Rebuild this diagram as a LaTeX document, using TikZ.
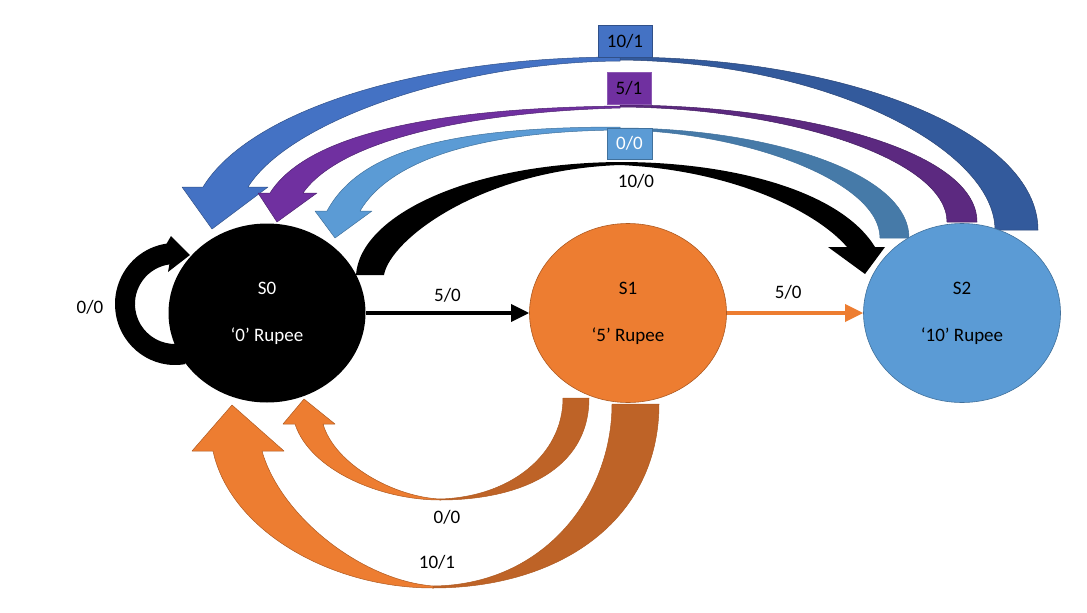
\documentclass[tikz,border=0pt]{standalone}
\usepackage{fontspec}
\setmainfont{Carlito}
\usepackage{tikz}
\usetikzlibrary{arrows.meta,shapes.geometric}
\usepackage{xcolor}
\definecolor{coinblue}{RGB}{68,114,196}
\definecolor{coinbluedark}{RGB}{51,90,156}
\definecolor{plum}{RGB}{112,48,160}
\definecolor{plumdark}{RGB}{92,41,128}
\definecolor{paleblue}{RGB}{91,155,213}
\definecolor{palebluedark}{RGB}{70,122,168}
\definecolor{amber}{RGB}{237,125,49}
\definecolor{amberdark}{RGB}{190,99,39}
\definecolor{amberline}{RGB}{174,90,33}
\definecolor{paleline}{RGB}{65,113,156}

\begin{document}
\begin{tikzpicture}[x=1pt, y=-1pt, font=\fontsize{19}{23}\selectfont,
    state/.style={ellipse, minimum width=197pt, minimum height=179pt,
      inner sep=0pt, align=center},
    tagbox/.style={minimum height=32pt, inner sep=0pt, line width=0.6pt},
    band/.style={line width=0.5pt, line join=round}]
        \useasboundingbox (0,0) rectangle (1087,613);

        % 10/1 : S2 back to S0
        \filldraw[band, fill=coinbluedark, draw=coinblue!60!black]
          (1038,230) .. controls (1038,134) and (851,57) .. (620,57)
          -- (620,60) .. controls (830,62) and (995,150) .. (995,230) -- cycle;
        \filldraw[band, fill=coinblue, draw=coinblue!70!black]
          (620,57) .. controls (420,57) and (250,110) .. (203,187)
          -- (182,187) -- (212,229) -- (268,187) -- (248,187)
          .. controls (290,120) and (460,62) .. (620,61) -- cycle;
        \node[tagbox, fill=coinblue, draw=coinblue!70!black,
          minimum width=54pt] (t101) at (625,41) {10/1};

        % 5/1 : S2 back to S0
        \filldraw[band, fill=plumdark, draw=plum!60!black]
          (977,222) .. controls (977,150) and (800,105) .. (620,105)
          -- (620,107) .. controls (790,108) and (947,160) .. (947,222) -- cycle;
        \filldraw[band, fill=plum, draw=plum!70!black]
          (620,106) .. controls (450,108) and (310,130) .. (270,193)
          -- (258,193) -- (277,222) -- (317,193) -- (303,193)
          .. controls (340,140) and (470,112) .. (620,108) -- cycle;
        \node[tagbox, fill=plum, draw=plum!80!white,
          minimum width=44pt] (t51) at (629,88) {5/1};

        % 0/0 : S2 back to S0
        \filldraw[band, fill=palebluedark, draw=paleline]
          (909,238) .. controls (909,170) and (760,128) .. (620,128)
          -- (620,130) .. controls (740,131) and (880,180) .. (880,238) -- cycle;
        \filldraw[band, fill=paleblue, draw=paleline]
          (620,127) .. controls (450,127) and (360,150) .. (327,211)
          -- (315,211) -- (335,238) -- (372,211) -- (360,211)
          .. controls (390,160) and (480,131) .. (620,130) -- cycle;
        \node[tagbox, fill=paleblue, draw=paleline, text=white,
          minimum width=45pt, minimum height=31pt] (t00) at (629.5,143.5) {0/0};

        % 10/0 : S0 to S2
        \fill[black]
          (356,275) .. controls (360,215) and (470,163) .. (620,162)
          .. controls (730,162) and (840,190) .. (875,247)
          -- (885,247) -- (865,274) -- (828,247) -- (847,247)
          .. controls (815,210) and (730,170) .. (620,165)
          .. controls (480,170) and (390,240) .. (384,275) -- cycle;
        \node (l100) at (636,181) {10/0};

        % 0/0 : S1 back to S0
        \filldraw[band, fill=amberdark, draw=amberline]
          (589,398) .. controls (589,470) and (520,500) .. (440,500)
          -- (440,499) .. controls (510,497) and (563,455) .. (563,398) -- cycle;
        \filldraw[band, fill=amber, draw=amberline]
          (440,500) .. controls (380,500) and (310,470) .. (295,424)
          -- (283,424) -- (304,399) -- (335,424) -- (323,424)
          .. controls (335,465) and (395,497) .. (440,499) -- cycle;
        \node (l00b) at (447,517) {0/0};

        % 10/1 : S1 back to S0
        \filldraw[band, fill=amberdark, draw=amberline]
          (659,404) .. controls (659,520) and (560,588) .. (433,588)
          -- (433,586) .. controls (545,585) and (612,495) .. (612,404) -- cycle;
        \filldraw[band, fill=amber, draw=amberline]
          (433,588) .. controls (330,588) and (230,530) .. (213,451)
          -- (192,451) -- (232,405) -- (284,451) -- (262,451)
          .. controls (280,515) and (360,580) .. (433,586) -- cycle;
        \node (l101b) at (437,562) {10/1};

        % self loop on S0
        \fill[black]
          (175,304) ++(80:60 and 61) arc[start angle=80, end angle=262,
            x radius=60, y radius=61]
          -- (171,236) -- (190,255) -- (168,272)
          -- (169.4,264.4) arc[start angle=262, end angle=80,
            x radius=40, y radius=40] -- cycle;
        \node (l00a) at (90,307) {0/0};

        % States
        \node[state, fill=black, text=white] (s0) at (267,313)
          {S0\\[24pt]‘0’ Rupee};
        \node[state, fill=amber, draw=amberline, line width=0.6pt] (s1) at (628,313)
          {S1\\[24pt]‘5’ Rupee};
        \node[state, fill=paleblue, draw=paleline, line width=0.6pt] (s2) at (962,313)
          {S2\\[24pt]‘10’ Rupee};

        % straight transitions
        \draw[line width=3.5pt, -{Triangle[length=18pt,width=17pt]}] (s0) --
          node[pos=0.5, above=6pt] (l50a) {5/0} (s1);
        \draw[amber, line width=3.5pt, -{Triangle[length=18pt,width=17pt]}] (s1) --
          node[pos=0.45, above=9pt, text=black] (l50b) {5/0} (s2);
      \end{tikzpicture}
\end{document}
